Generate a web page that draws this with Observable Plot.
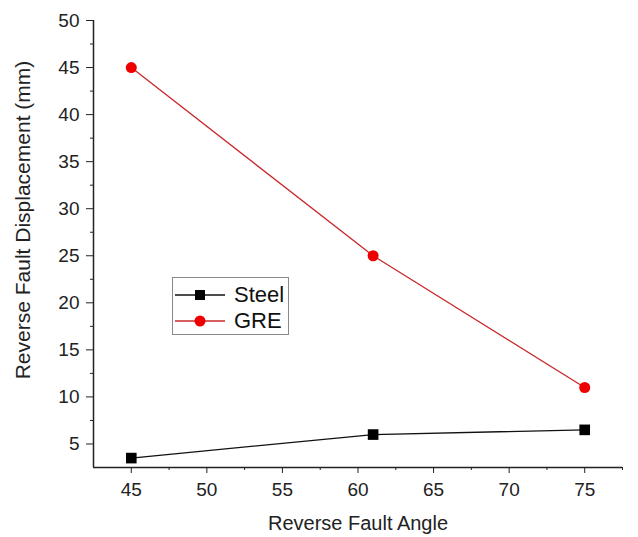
<!DOCTYPE html>
<html>
<head>
<meta charset="utf-8">
<script src="https://cdn.jsdelivr.net/npm/d3@7"></script>
<script src="https://cdn.jsdelivr.net/npm/@observablehq/plot@0.6"></script>
<style>
  html, body { margin: 0; padding: 0; background: #fff; }
  #wrap { position: relative; width: 638px; height: 537px; font-family: "Liberation Sans", Arial, sans-serif; }
  #legend { position: absolute; left: 172px; top: 277px; width: 117px; height: 58px; border: 1px solid #8a8a8a; background: #fff; box-sizing: border-box; }
  .entry { position: absolute; left: 0; height: 24px; display: flex; align-items: center; }
  .entry svg { display: block; }
  .entry span { font-size: 22px; color: #111; margin-left: 7px; }
</style>
</head>
<body>
<div id="wrap"></div>
<script>
const angles = [45, 61, 75];
const steel = [3.5, 6, 6.5];
const gre = [45, 25, 11];
const seriesNames = ["Steel", "GRE"];
const xTicks = [45, 50, 55, 60, 65, 70, 75];
const xMinor = [47.5, 52.5, 57.5, 62.5, 67.5, 72.5, 77.5];
const yTicks = [5, 10, 15, 20, 25, 30, 35, 40, 45, 50];
const yMinor = [7.5, 12.5, 17.5, 22.5, 27.5, 32.5, 37.5, 42.5, 47.5];

const steelData = angles.map((a, i) => ({angle: a, value: steel[i]}));
const greData = angles.map((a, i) => ({angle: a, value: gre[i]}));

const font = "Liberation Sans, Arial, sans-serif";
const chart = Plot.plot({
  width: 638,
  height: 537,
  marginLeft: 93,
  marginTop: 20,
  marginBottom: 70,
  marginRight: 16,
  style: {fontFamily: font, fontSize: "19px", color: "#222", background: "#fff"},
  x: {domain: [42.5, 77.5]},
  y: {domain: [2.5, 50]},
  marks: [
    Plot.axisX({ticks: xTicks, tickSize: 6, tickPadding: 9, tickFormat: d => String(d), label: "Reverse Fault Angle", labelAnchor: "center", labelArrow: "none", labelOffset: 62, stroke: "#222", fill: "#222"}),
    Plot.axisX({ticks: xMinor, tickSize: 3, tickFormat: () => "", label: null, stroke: "#222"}),
    Plot.axisY({ticks: yTicks, tickSize: 7, tickPadding: 7, tickFormat: d => String(d), label: "Reverse Fault Displacement (mm)", labelAnchor: "center", labelArrow: "none", labelOffset: 78, stroke: "#222", fill: "#222"}),
    Plot.axisY({ticks: yMinor, tickSize: 3, tickFormat: () => "", label: null, stroke: "#222"}),
    Plot.ruleY([2.5], {stroke: "#222", strokeWidth: 1.5}),
    Plot.ruleX([42.5], {stroke: "#222", strokeWidth: 1.5}),
    Plot.line(greData, {x: "angle", y: "value", stroke: "#c8282a", strokeWidth: 1.3}),
    Plot.line(steelData, {x: "angle", y: "value", stroke: "#111", strokeWidth: 1.3}),
    Plot.dot(greData, {x: "angle", y: "value", r: 5.5, fill: "#ee0000", symbol: "circle"}),
    Plot.dot(steelData, {x: "angle", y: "value", r: 6, fill: "#000", symbol: "square"})
  ]
});
const wrap = document.getElementById("wrap");
wrap.appendChild(chart);
// font sizes for tick labels and axis titles
chart.querySelectorAll("text").forEach(t => {
  const g = t.closest("g[aria-label]");
  const lab = g ? g.getAttribute("aria-label") : "";
  if (lab === "x-axis label") {
    t.style.setProperty("font-size", "20px", "important");
    t.setAttribute("fill", "#222");
  } else if (lab === "y-axis label") {
    t.style.setProperty("font-size", "21px", "important");
    t.setAttribute("fill", "#222");
    t.setAttribute("dx", "24");
  } else if (lab.indexOf("tick label") >= 0) {
    t.style.setProperty("font-size", "19px", "important");
  }
});

const legend = document.createElement("div");
legend.id = "legend";
const styles = [
  {name: seriesNames[0], line: "#111", fill: "#000", shape: "square"},
  {name: seriesNames[1], line: "#c8282a", fill: "#ee0000", shape: "circle"}
];
styles.forEach((s, i) => {
  const e = document.createElement("div");
  e.className = "entry";
  e.style.top = (5 + i * 26) + "px";
  const marker = s.shape === "square"
    ? `<rect x="22" y="7" width="10" height="10" fill="${s.fill}"/>`
    : `<circle cx="27" cy="12" r="5.5" fill="${s.fill}"/>`;
  e.innerHTML = `<svg width="54" height="24"><line x1="2" y1="12" x2="52" y2="12" stroke="${s.line}" stroke-width="1.3"/>${marker}</svg><span>${s.name}</span>`;
  legend.appendChild(e);
});
wrap.appendChild(legend);
</script>
</body>
</html>
